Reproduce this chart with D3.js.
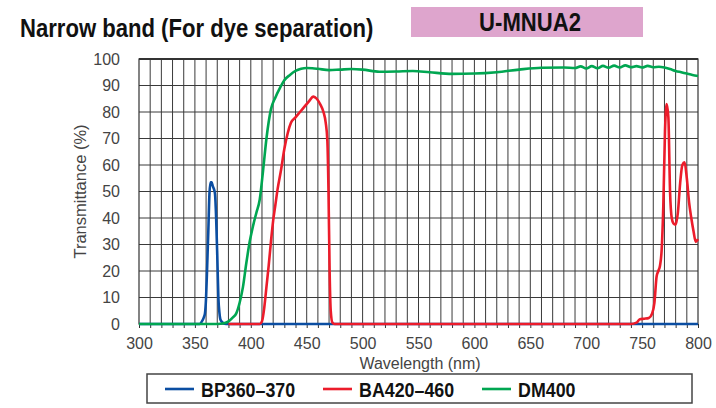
<!DOCTYPE html>
<html>
<head>
<meta charset="utf-8">
<script src="https://cdn.jsdelivr.net/npm/d3@7"></script>
<style>
  body { margin: 0; background: #fff; }
  svg { display: block; }
</style>
</head>
<body>
<div id="chart"></div>
<script>
// BP360-370 excitation filter
const bpNm = [300, 354, 356, 358, 359, 360, 361, 362, 363, 364, 365, 366, 367, 368, 369, 370, 371, 372, 373, 375, 378, 800];
const bpT  = [0, 0, 0.8, 2.5, 4, 10, 22, 35, 49, 53.5, 53.5, 52, 51, 49, 40, 26, 10, 4, 1.5, 0.5, 0, 0];

// BA420-460 barrier filter
const baNm = [380, 408, 410, 412, 414, 416, 418, 420, 422, 424, 427, 430, 433, 436, 440, 444, 448, 452, 456, 459, 462, 465, 467, 468.5, 469.5, 470.5, 471.5, 473, 475,
              740, 745, 748, 752, 756, 759, 761, 763, 764.5, 766, 767.5, 769, 770.5, 772, 773.5, 775, 776.5, 778, 780, 782, 784, 786, 788, 790, 792, 794, 796, 798, 800];
const baT  = [0, 0, 1, 6, 14, 22, 31, 39, 45, 51, 58, 66, 72, 76, 78, 80, 82, 84, 85.8, 85, 83, 80, 76, 69, 50, 20, 5, 0.5, 0,
              0, 0.5, 1.8, 2, 2.3, 4, 8, 18, 20, 22, 28, 45, 73, 83, 78, 50, 40, 38, 37.5, 42, 53, 60, 61, 55, 46, 40, 35, 31, 32];

// DM400 dichroic mirror
const dmNm = [300, 370, 376, 380, 384, 387, 390, 393, 396, 399, 402, 405, 408, 411, 414, 418, 422, 426, 430, 435, 440, 445, 450, 455, 460, 470, 480, 490, 500, 515, 530, 545, 560, 580, 600, 620, 640, 660, 680,
              690, 695, 700, 705, 710, 715, 720, 725, 730, 735, 740, 745, 750, 755, 760, 765, 770, 775, 780, 785, 790, 795, 800];
const dmT  = [0, 0, 0.3, 1, 2.5, 4, 8, 14, 23, 31, 37, 42, 47, 58, 70, 81, 85.5, 89, 92, 94, 95.5, 96.3, 96.6, 96.5, 96.3, 95.8, 96, 96.2, 96, 95.2, 95.3, 95.5, 95, 94.4, 94.5, 95, 96, 96.7, 96.8,
              96.6, 97.2, 96.4, 97.3, 96.5, 97.4, 96.7, 97.5, 96.8, 97.6, 96.9, 97.3, 96.8, 97.4, 96.9, 97.1, 96.8, 96.2, 95.5, 95, 94.5, 94, 93.6];

const xTicks = [300, 350, 400, 450, 500, 550, 600, 650, 700, 750, 800];
const yTicks = [0, 10, 20, 30, 40, 50, 60, 70, 80, 90, 100];

const seriesNames = ["BP360\u2013370", "BA420\u2013460", "DM400"];
const seriesColors = ["#0b4ea2", "#ec1c2b", "#00a651"];

const width = 716, height = 408;
const plotL = 139, plotR = 698, plotT = 59, plotB = 324;

const svg = d3.select("#chart").append("svg")
  .attr("width", width)
  .attr("height", height);

const x = d3.scaleLinear().domain([300, 800]).range([plotL, plotR]);
const y = d3.scaleLinear().domain([0, 100]).range([plotB, plotT]);

// no condensed font installed, so squeeze Liberation Sans Bold horizontally
const bold = "'Liberation Sans', Arial, sans-serif";
const plain = "'Liberation Sans', Arial, sans-serif";
const squeeze = 0.85;

// title + badge
svg.append("text")
  .attr("transform", `translate(20,37) scale(${squeeze},1)`)
  .attr("font-family", bold).attr("font-weight", "bold")
  .attr("font-size", 26).attr("fill", "#111")
  .text("Narrow band (For dye separation)");

svg.append("rect")
  .attr("x", 411).attr("y", 7).attr("width", 232).attr("height", 30)
  .attr("fill", "#dea5cd");
svg.append("text")
  .attr("transform", `translate(530,31) scale(${squeeze},1)`)
  .attr("text-anchor", "middle")
  .attr("font-family", bold).attr("font-weight", "bold")
  .attr("font-size", 26).attr("fill", "#111")
  .text("U-MNUA2");

// grid
const grid = svg.append("g");
grid.selectAll("line.v")
  .data(d3.range(310, 800, 10))
  .join("line")
  .attr("class", "v")
  .attr("x1", d => x(d)).attr("x2", d => x(d))
  .attr("y1", plotT).attr("y2", plotB)
  .attr("stroke", "#3a3a3a").attr("stroke-width", 1);
grid.selectAll("line.h")
  .data(d3.range(10, 100, 10))
  .join("line")
  .attr("class", "h")
  .attr("x1", plotL).attr("x2", plotR)
  .attr("y1", d => y(d)).attr("y2", d => y(d))
  .attr("stroke", "#3a3a3a").attr("stroke-width", 1);

// frame
svg.append("rect")
  .attr("x", plotL).attr("y", plotT)
  .attr("width", plotR - plotL).attr("height", plotB - plotT)
  .attr("fill", "none").attr("stroke", "#333").attr("stroke-width", 1.2);
svg.append("line")
  .attr("x1", plotL).attr("x2", plotR).attr("y1", plotT).attr("y2", plotT)
  .attr("stroke", "#333").attr("stroke-width", 2);

// axes
const xAxis = svg.append("g")
  .attr("transform", `translate(0,${plotB})`)
  .call(d3.axisBottom(x).tickValues(d3.range(300, 801, 10)).tickSize(4).tickFormat(""));
xAxis.select(".domain").remove();
xAxis.selectAll("line").attr("stroke", "#333");

const xLabels = svg.append("g")
  .attr("transform", `translate(0,${plotB})`)
  .call(d3.axisBottom(x).tickValues(xTicks).tickSize(0).tickPadding(14));
xLabels.select(".domain").remove();
xLabels.selectAll("text")
  .attr("font-family", plain).attr("font-size", 16).attr("fill", "#444");

const yLabels = svg.append("g")
  .attr("transform", `translate(${plotL},0)`)
  .call(d3.axisLeft(y).tickValues(yTicks).tickSize(0).tickPadding(19));
yLabels.select(".domain").remove();
yLabels.selectAll("text")
  .attr("font-family", plain).attr("font-size", 16).attr("fill", "#444");

svg.append("text")
  .attr("x", 420).attr("y", 369)
  .attr("text-anchor", "middle")
  .attr("font-family", plain).attr("font-size", 16).attr("fill", "#444")
  .text("Wavelength (nm)");

svg.append("text")
  .attr("transform", `translate(86,${(plotT + plotB) / 2}) rotate(-90)`)
  .attr("text-anchor", "middle")
  .attr("font-family", plain).attr("font-size", 16.5).attr("fill", "#444")
  .text("Transmittance (%)");

// curves
const series = [
  { nm: bpNm, t: bpT },
  { nm: baNm, t: baT },
  { nm: dmNm, t: dmT }
];
const line = d3.line()
  .x(d => x(d[0]))
  .y(d => y(d[1]))
  .curve(d3.curveMonotoneX);

svg.append("g").selectAll("path")
  .data(series)
  .join("path")
  .attr("d", s => line(s.nm.map((n, i) => [n, s.t[i]])))
  .attr("fill", "none")
  .attr("stroke", (s, i) => seriesColors[i])
  .attr("stroke-width", 2.6)
  .attr("stroke-linejoin", "round");

// legend
svg.append("rect")
  .attr("x", 147).attr("y", 374).attr("width", 545).attr("height", 29)
  .attr("fill", "#fff").attr("stroke", "#444").attr("stroke-width", 1.5);

const legendX = [165, 323, 482];
const legend = svg.append("g").selectAll("g")
  .data(seriesNames)
  .join("g")
  .attr("transform", (d, i) => `translate(${legendX[i]},389)`);
legend.append("line")
  .attr("x1", 0).attr("x2", 29)
  .attr("stroke", (d, i) => seriesColors[i]).attr("stroke-width", 2.6);
legend.append("text")
  .attr("transform", `translate(36,7.5) scale(${squeeze},1)`)
  .attr("font-family", bold).attr("font-weight", "bold")
  .attr("font-size", 21).attr("fill", "#111")
  .text(d => d);
</script>
</body>
</html>
